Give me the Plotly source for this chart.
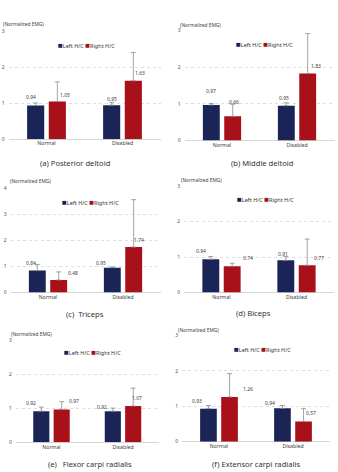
import plotly.graph_objects as go

# ---------------- data ----------------
categories = ["Normal", "Disabled"]
panel_titles = ["(a) Posterior deltoid", "(b) Middle deltoid", "(c)\u00a0\u00a0Triceps",
                "(d) Biceps", "(e)\u00a0\u00a0\u00a0Flexor carpi radialis", "(f) Extensor carpi radialis"]
series_names = ["Left H/C", "Right H/C"]
left_means = [[0.94, 0.95], [0.97, 0.95], [0.84, 0.95], [0.94, 0.91], [0.92, 0.92], [0.93, 0.94]]
right_means = [[1.05, 1.63], [0.66, 1.83], [0.48, 1.74], [0.74, 0.77], [0.97, 1.07], [1.26, 0.57]]
left_err = [[0.07, 0.08], [0.04, 0.08], [0.23, 0.03], [0.08, 0.11], [0.12, 0.09], [0.09, 0.08]]
right_err = [[0.55, 0.79], [0.33, 1.09], [0.31, 1.81], [0.09, 0.74], [0.23, 0.53], [0.66, 0.36]]
y_max = [3, 3, 4, 3, 3, 3]
y_label = "(Normalized EMG)"

# ---------------- style / layout ----------------
W, H = 338, 472
NAVY = "#1b2456"
RED = "#a8111a"
ERR = "#8c8c8c"
FONT = "Noto Sans"
BARGAP = 0.43
GROUPGAP = 0.21

# plot boxes in px: left, right, top, bottom
boxes = [(8.5, 160.5, 29, 138), (184.5, 334.5, 28, 139.3),
         (10.5, 160.5, 187.3, 293.3), (184, 334, 185.7, 293.3),
         (15.75, 158.75, 342, 445), (182, 330, 336.7, 444.3)]
title_pos = [(75.5, 162), (262, 162), (85, 315), (254, 314), (89.5, 467), (255.5, 467)]
ylab_pos = [(1, 21.7), (178, 22), (8, 180), (179, 179), (9, 335), (176, 331)]
legend_pos = [(86, 42), (264.5, 41), (90, 200.7), (265.5, 198), (92, 353), (262.5, 350)]
label_dx_left = [[-5, 0], [0, -2], [-6, -11], [-10, -3], [-10, -11], [-11, -12]]
label_dx_right = [[7.5, 7], [1, 8], [14, 5], [16, 12], [12, 4], [18, 7]]
label_dy_left = [[9, 6.5], [14, 8], [8, 5], [8, 6], [8, 4], [8, 5]]
label_dy_right = [[7, 8], [14, 8], [7, 7], [8, 7], [8, 8], [8, 8]]


def px(x):
    return x / W


def py(y):
    return 1 - y / H


fig = go.Figure()
annotations = []
layout_axes = {}
half = (1 - BARGAP) / 4  # centre offset of each bar inside a group (data units)

for i in range(6):
    ax = "" if i == 0 else str(i + 1)
    xa, ya = "x" + ax, "y" + ax
    for name, means, errs, color in [(series_names[0], left_means[i], left_err[i], NAVY),
                                     (series_names[1], right_means[i], right_err[i], RED)]:
        fig.add_trace(go.Bar(
            x=categories, y=means, name=name, marker=dict(color=color, line=dict(width=0)),
            error_y=dict(type="data", symmetric=False, array=errs, arrayminus=[0] * len(errs),
                         color=ERR, thickness=0.8, width=2.5),
            xaxis=xa, yaxis=ya, showlegend=False, offsetgroup=name))
    l, r, t, b = boxes[i]
    layout_axes["xaxis" + ax] = dict(
        domain=[px(l), px(r)], anchor=ya, type="category", range=[-0.5, 1.5],
        showgrid=False, zeroline=False, showline=False, ticks="",
        tickfont=dict(size=5.2, color="#404040", family=FONT), fixedrange=True)
    layout_axes["yaxis" + ax] = dict(
        domain=[py(b), py(t)], anchor=xa, range=[0, y_max[i]], dtick=1,
        showgrid=True, gridcolor="#dedede", griddash="dot", gridwidth=0.8,
        zeroline=True, zerolinecolor="#d6d6d6", zerolinewidth=1, showline=False, ticks="",
        ticklabelstandoff=3, tickfont=dict(size=5, color="#505050", family=FONT), fixedrange=True)

    # value labels
    for j in range(2):
        annotations.append(dict(
            x=j - half, y=left_means[i][j], xref=xa, yref=ya, text=f"{left_means[i][j]:.2f}",
            showarrow=False, xshift=label_dx_left[i][j], yshift=label_dy_left[i][j],
            font=dict(size=5, color="#404040", family=FONT), yanchor="middle"))
        annotations.append(dict(
            x=j + half, y=right_means[i][j], xref=xa, yref=ya, text=f"{right_means[i][j]:.2f}",
            showarrow=False, xshift=label_dx_right[i][j], yshift=label_dy_right[i][j],
            font=dict(size=5, color="#404040", family=FONT), yanchor="middle"))

    # panel title
    tx, ty = title_pos[i]
    annotations.append(dict(x=px(tx), y=py(ty), xref="paper", yref="paper", text=panel_titles[i],
                            showarrow=False, xanchor="center", yanchor="middle",
                            font=dict(size=7.6, color="#333333", family=FONT)))
    # y label
    lx, ly = ylab_pos[i]
    annotations.append(dict(x=px(lx), y=py(ly), xref="paper", yref="paper", text=y_label,
                            showarrow=False, xanchor="left", yanchor="middle",
                            font=dict(size=4.8, color="#404040", family=FONT)))
    # legend
    gx, gy = legend_pos[i]
    leg = (f"<span style='color:{NAVY};font-size:8px'>\u25A0</span>{series_names[0]}\u00a0"
           f"<span style='color:{RED};font-size:8px'>\u25A0</span>{series_names[1]}")
    annotations.append(dict(x=px(gx), y=py(gy), xref="paper", yref="paper", text=leg,
                            showarrow=False, xanchor="center", yanchor="middle",
                            font=dict(size=5.5, color="#333333", family=FONT)))

fig.update_layout(
    width=W, height=H, margin=dict(l=0, r=0, t=0, b=0),
    paper_bgcolor="white", plot_bgcolor="white",
    barmode="group", bargap=BARGAP, bargroupgap=GROUPGAP,
    showlegend=False, annotations=annotations, **layout_axes)

fig.write_html("out.html", config={"displayModeBar": False})
